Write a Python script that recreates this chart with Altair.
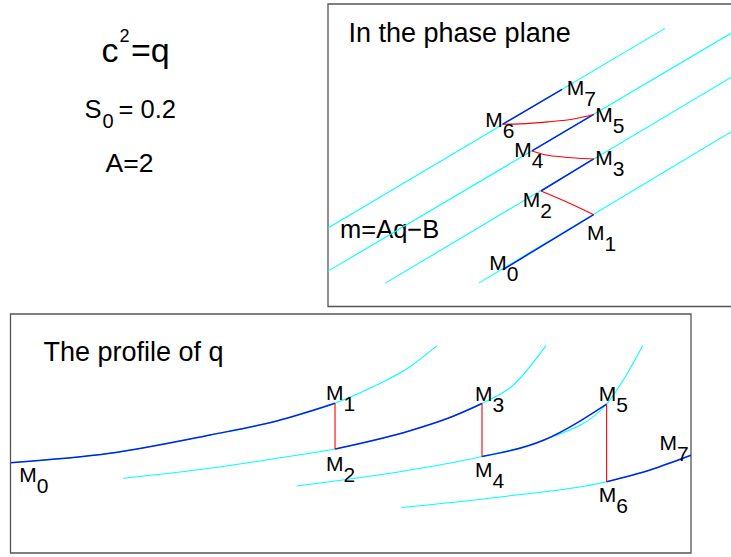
import altair as alt
import pandas as pd

FONT = "Liberation Sans"
CYAN = "#00ffff"
BLUE = "#0022ee"
RED = "#ff0000"
FRAME = "#555555"

# ---------------- phase plane: q across, m upwards ----------------
# characteristics m = A q - B (A = 2), each given by its two visible end points
CHAR_ID = [1, 1, 2, 2, 3, 3, 4, 4]
CHAR_Q = [0.0, 3.345, 0.0, 4.0, 0.569, 4.0, 1.496, 4.0]
CHAR_M = [2.593, 9.195, 1.169, 9.03, 0.772, 7.573, 0.772, 5.772]

# blue pieces of the path: M0-M1, M2-M3, M4-M5, M6-M7
PATH_ID = [0, 0, 1, 1, 2, 2, 3, 3]
PATH_Q = [1.734, 2.637, 2.114, 2.637, 2.025, 2.637, 1.734, 2.323]
PATH_M = [1.215, 3.036, 3.818, 4.877, 5.142, 6.348, 6.026, 7.175]

# red jumps: M2-M1, M4-M3, M6-M5
JUMP_ID = [1, 1, 1, 2, 2, 2, 2, 2, 3, 3, 3, 3, 3]
JUMP_Q = [2.114, 2.370, 2.637, 2.025, 2.179, 2.335, 2.486, 2.637, 1.734, 1.906, 2.184, 2.452, 2.637]
JUMP_M = [3.818, 3.454, 3.036, 5.142, 5.000, 4.944, 4.901, 4.877, 6.026, 6.036, 6.103, 6.209, 6.348]

# point names M0..M7 (anchor = left edge / baseline of the "M")
PHASE_LABEL_SUB = ["0", "1", "2", "3", "4", "5", "6", "7"]
PHASE_LABEL_Q = [1.601, 2.571, 1.932, 2.653, 1.849, 2.653, 1.561, 2.369]
PHASE_LABEL_M = [1.215, 2.209, 3.288, 4.669, 4.944, 6.103, 5.937, 6.987]

# ---------------- profile of q: position across, q upwards ----------------
CURVE_X = [
    [0.0, 1.462, 2.932, 3.912, 4.769, 5.382, 5.871, 6.267],
    [1.658, 2.932, 3.912, 4.769, 5.871, 6.429, 6.929, 7.389, 7.869],
    [4.207, 5.871, 6.929, 7.840, 8.760, 9.035, 9.289],
    [5.743, 7.193, 8.760, 9.398, 10.0],
]
CURVE_Q = [
    [3.778, 4.172, 4.937, 5.523, 6.264, 7.029, 7.795, 8.674],
    [3.126, 3.544, 3.962, 4.351, 5.117, 5.636, 6.255, 7.029, 8.674],
    [2.803, 3.473, 4.038, 4.728, 6.234, 7.377, 8.674],
    [1.904, 2.343, 2.983, 3.473, 4.088],
]
# index range of each curve that belongs to the solution path
PATH_SPAN = [(0, 4), (3, 6), (2, 4), (2, 4)]

# shocks: vertical jumps M1-M2, M3-M4, M5-M6
SHOCK_X = [4.769, 6.929, 8.760]
SHOCK_TOP = [6.264, 6.255, 6.234]
SHOCK_BOTTOM = [4.351, 4.038, 2.983]

PROF_LABEL_SUB = ["0", "1", "2", "3", "4", "5", "6", "7"]
PROF_LABEL_X = [0.129, 4.636, 4.636, 6.826, 6.826, 8.644, 8.644, 9.536]
PROF_LABEL_Q = [2.983, 6.402, 3.431, 6.372, 3.192, 6.372, 2.146, 4.310]

# ---------------- scales ----------------
PH_X = alt.Scale(domain=[0, 4], range=[328, 731], nice=False, zero=False)
PH_Y = alt.Scale(domain=[0, 10], range=[306.5, 4], nice=False, zero=False)
PR_X = alt.Scale(domain=[0, 10], range=[10.5, 691], nice=False, zero=False)
PR_Y = alt.Scale(domain=[0, 10], range=[553, 314], nice=False, zero=False)
PG_X = alt.Scale(domain=[0, 731], range=[0, 731], nice=False, zero=False)
PG_Y = alt.Scale(domain=[0, 557], range=[0, 557], nice=False, zero=False)

LABEL_SIZE = 21


def ph(xf, yf):
    return dict(x=alt.X(f"{xf}:Q", scale=PH_X, axis=None),
                y=alt.Y(f"{yf}:Q", scale=PH_Y, axis=None))


def pr(xf, yf):
    return dict(x=alt.X(f"{xf}:Q", scale=PR_X, axis=None),
                y=alt.Y(f"{yf}:Q", scale=PR_Y, axis=None))


def pg(xf, yf):
    return dict(x=alt.X(f"{xf}:Q", scale=PG_X, axis=None),
                y=alt.Y(f"{yf}:Q", scale=PG_Y, axis=None))


def indexed(ids):
    out, last, k = [], None, 0
    for i in ids:
        k = k + 1 if i == last else 0
        out.append(k)
        last = i
    return out


chars = pd.DataFrame({"id": CHAR_ID, "q": CHAR_Q, "m": CHAR_M, "k": indexed(CHAR_ID)})
path = pd.DataFrame({"id": PATH_ID, "q": PATH_Q, "m": PATH_M, "k": indexed(PATH_ID)})
jumps = pd.DataFrame({"id": JUMP_ID, "q": JUMP_Q, "m": JUMP_M, "k": indexed(JUMP_ID)})
ph_labels = pd.DataFrame({"sub": PHASE_LABEL_SUB, "q": PHASE_LABEL_Q, "m": PHASE_LABEL_M})

rows, blue_rows = [], []
for cid, (xs, qs) in enumerate(zip(CURVE_X, CURVE_Q)):
    lo, hi = PATH_SPAN[cid]
    for k, (x, q) in enumerate(zip(xs, qs)):
        rows.append({"id": cid, "k": k, "x": x, "q": q})
        if lo <= k <= hi:
            blue_rows.append({"id": cid, "k": k, "x": x, "q": q})
curves = pd.DataFrame(rows)
curves_path = pd.DataFrame(blue_rows)
shocks = pd.DataFrame({"x": SHOCK_X, "top": SHOCK_TOP, "bottom": SHOCK_BOTTOM})
pr_labels = pd.DataFrame({"sub": PROF_LABEL_SUB, "x": PROF_LABEL_X, "q": PROF_LABEL_Q})


def point_names(df, enc):
    m = alt.Chart(df).mark_text(
        text="M", font=FONT, fontSize=LABEL_SIZE, align="left", baseline="alphabetic", color="black"
    ).encode(**enc)
    s = alt.Chart(df).mark_text(
        font=FONT, fontSize=LABEL_SIZE, align="left", baseline="alphabetic", color="black",
        dx=17.5, dy=11
    ).encode(**enc, text="sub:N")
    return [m, s]


# ---------------- phase plane layers ----------------
ph_frame = alt.Chart(pd.DataFrame({"q0": [0], "q1": [4.2], "m0": [0], "m1": [10]})).mark_rect(
    fillOpacity=0, stroke=FRAME, strokeWidth=1.3
).encode(**ph("q0", "m0"), x2="q1:Q", y2="m1:Q")

ph_chars = alt.Chart(chars).mark_line(color=CYAN, strokeWidth=1.1, clip=True).encode(
    **ph("q", "m"), detail="id:N", order="k:Q")
ph_path = alt.Chart(path).mark_line(color=BLUE, strokeWidth=1.5).encode(
    **ph("q", "m"), detail="id:N", order="k:Q")
ph_jumps = alt.Chart(jumps).mark_line(color=RED, strokeWidth=1.1, interpolate="monotone").encode(
    **ph("q", "m"), detail="id:N", order="k:Q")

phase = alt.layer(ph_frame, ph_chars, ph_path, ph_jumps, *point_names(ph_labels, ph("q", "m")))

# ---------------- profile layers ----------------
pr_frame = alt.Chart(pd.DataFrame({"x0": [0], "x1": [10], "q0": [0], "q1": [10]})).mark_rect(
    fillOpacity=0, stroke=FRAME, strokeWidth=1.3
).encode(**pr("x0", "q0"), x2="x1:Q", y2="q1:Q")

pr_curves = alt.Chart(curves).mark_line(color=CYAN, strokeWidth=1.1, interpolate="monotone").encode(
    **pr("x", "q"), detail="id:N", order="k:Q")
pr_path = alt.Chart(curves_path).mark_line(color=BLUE, strokeWidth=1.5, interpolate="monotone").encode(
    **pr("x", "q"), detail="id:N", order="k:Q")
pr_shocks = alt.Chart(shocks).mark_rule(color=RED, strokeWidth=1.1).encode(
    **pr("x", "top"), y2="bottom:Q")

profile = alt.layer(pr_frame, pr_curves, pr_path, pr_shocks, *point_names(pr_labels, pr("x", "q")))


# ---------------- free text ----------------
def page_text(txt, x, y, size):
    return alt.Chart(pd.DataFrame({"t": [txt], "x": [x], "y": [y]})).mark_text(
        font=FONT, fontSize=size, align="left", baseline="alphabetic", color="black"
    ).encode(**pg("x", "y"), text="t:N")


notes = alt.layer(
    page_text("c", 101.5, 61.7, 34),
    page_text("2", 119.5, 41.7, 18),
    page_text("=q", 131, 61.7, 34),
    page_text("S", 84.5, 118.3, 25.5),
    page_text("0", 102.5, 128.3, 20),
    page_text("= 0.2", 118.5, 118.3, 25.5),
    page_text("A=2", 105.5, 171.7, 26.5),
    page_text("In the phase plane", 348.5, 41.7, 27),
    page_text("m=Aq\u2212B", 340, 238.3, 25.5),
    page_text("The profile of q", 43.5, 360.5, 27),
)

chart = alt.layer(notes, phase, profile).resolve_scale(
    x="independent", y="independent"
).properties(
    width=731, height=557, padding=0,
    autosize=alt.AutoSizeParams(type="none"),
    background="white",
).configure_view(strokeWidth=0)

chart.save("out.html", embed_options={"renderer": "svg", "actions": False})
